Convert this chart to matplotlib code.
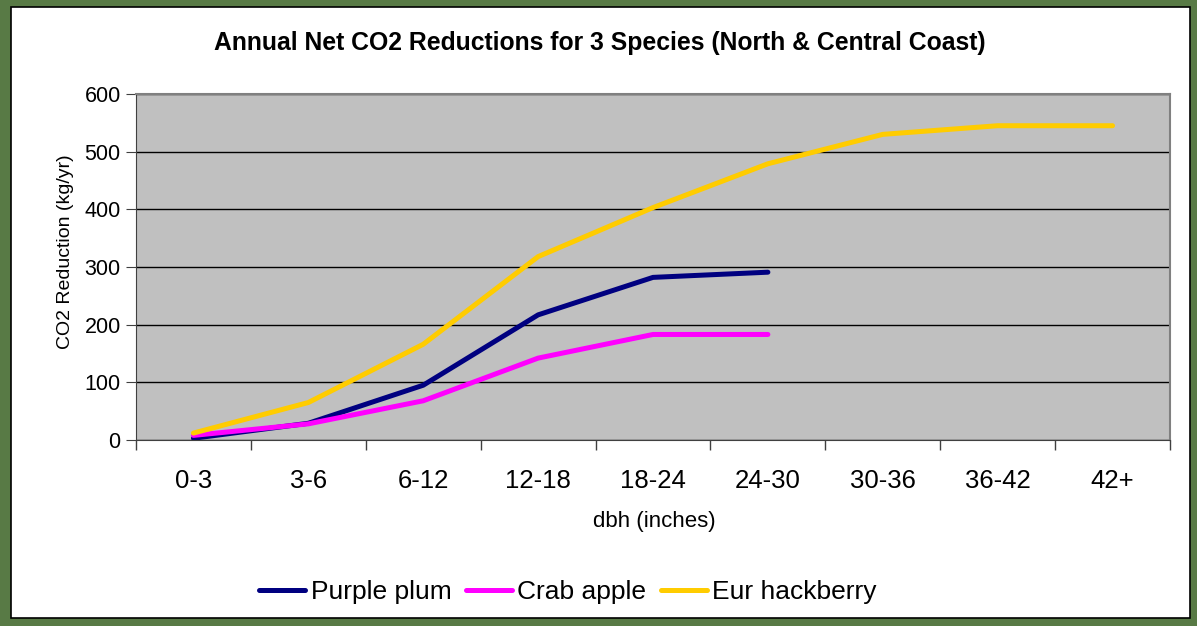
import matplotlib
matplotlib.use('Agg')
import matplotlib.pyplot as plt
from matplotlib.patches import Rectangle
import numpy as np

plt.rcParams['font.family'] = ['Liberation Sans', 'DejaVu Sans']

# data
categories = ['0-3', '3-6', '6-12', '12-18', '18-24', '24-30', '30-36', '36-42', '42+']
purple_plum = [3, 29, 95, 217, 282, 291]
crab_apple = [8, 28, 68, 142, 183, 183]
eur_hackberry = [12, 65, 166, 318, 403, 479, 530, 545, 545]

W, H = 1197, 626
fig = plt.figure(figsize=(W / 100, H / 100), dpi=100)
fig.patch.set_facecolor('#587a45')

# white chart box on the green background
box = Rectangle((11 / W, 1 - 618 / H), (1190 - 11) / W, (618 - 7) / H,
                transform=fig.transFigure, facecolor='white', edgecolor='black',
                linewidth=1.2, zorder=-1)
fig.patches.append(box)

ax = fig.add_axes([136 / W, 1 - 440 / H, (1170 - 136) / W, (440 - 94) / H])
ax.set_facecolor('#c0c0c0')

x = np.arange(len(categories))
ax.plot(x[:len(purple_plum)], purple_plum, color='#000080', lw=3.6,
        solid_capstyle='round', label='Purple plum')
ax.plot(x[:len(crab_apple)], crab_apple, color='#ff00ff', lw=3.6,
        solid_capstyle='round', label='Crab apple')
ax.plot(x, eur_hackberry, color='#ffcc00', lw=3.6,
        solid_capstyle='round', label='Eur hackberry')

ax.set_xlim(-0.5, len(categories) - 0.5)
ax.set_ylim(0, 600)
ax.set_yticks(np.arange(0, 601, 100))
ax.yaxis.grid(True, color='black', lw=1)
ax.set_axisbelow(True)

# tick marks at category boundaries, labels at centres
ax.set_xticks(np.arange(-0.5, len(categories), 1))
ax.set_xticklabels([])
ax.set_xticks(x, minor=True)
ax.set_xticklabels(categories, minor=True, fontsize=18.5)
ax.tick_params(axis='x', which='major', length=7, color='#404040', width=1)
ax.tick_params(axis='x', which='minor', length=0, pad=21)
ax.tick_params(axis='y', length=7, color='#404040', labelsize=15.5, pad=4)

for s in ['left', 'bottom']:
    ax.spines[s].set_color('#404040')
for s in ['top', 'right']:
    ax.spines[s].set_color('#808080')
    ax.spines[s].set_linewidth(1.5)

fig.text(654 / W, 1 - 522 / H, 'dbh (inches)', ha='center', va='center',
         fontsize=16)
fig.text(65 / W, 1 - 252 / H, 'CO2 Reduction (kg/yr)', rotation=90,
         ha='center', va='center', fontsize=14)
fig.text(600 / W, 1 - 43 / H,
         'Annual Net CO2 Reductions for 3 Species (North & Central Coast)',
         ha='center', va='center', fontsize=17.8, fontweight='bold')

fig.legend(loc='center', bbox_to_anchor=(568 / W, 1 - 592 / H), ncol=3,
           frameon=False, fontsize=19, handlelength=1.75, handletextpad=0.2,
           columnspacing=0.55)

fig.savefig('out.png', dpi=100, facecolor=fig.get_facecolor())
